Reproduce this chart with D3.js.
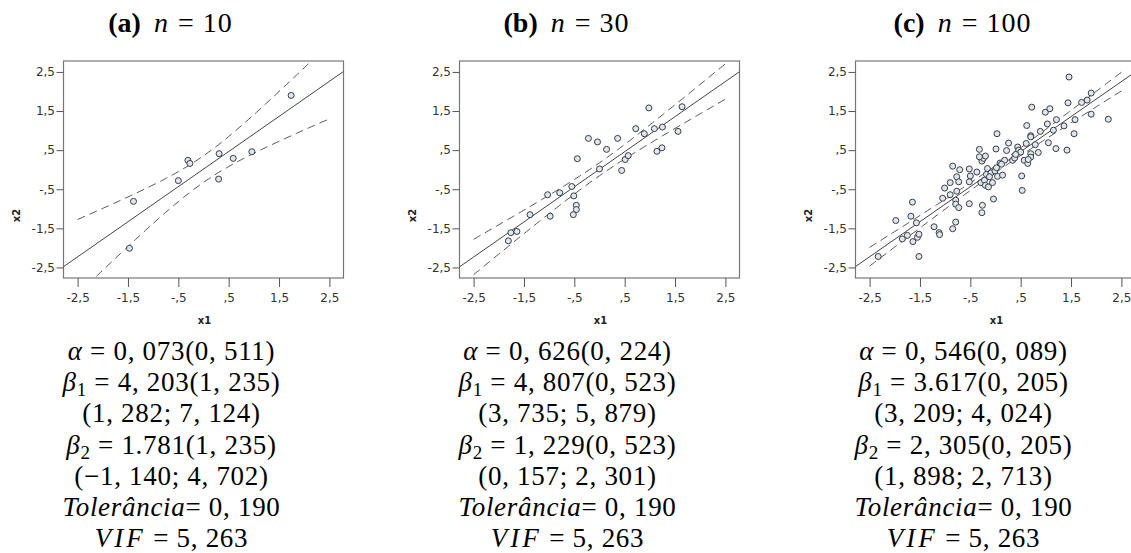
<!DOCTYPE html>
<html>
<head>
<meta charset="utf-8">
<script src="https://cdn.jsdelivr.net/npm/d3@7"></script>
<style>
  body { margin: 0; background: #fff; }
  svg { display: block; }
</style>
</head>
<body>
<svg id="chart"></svg>
<script>
// values
const tickValues = [-2.5, -1.5, -0.5, 0.5, 1.5, 2.5];
const panelLetters = ["a", "b", "c"];
const sampleSizes = [10, 30, 100];
const tCrit = [2.306, 2.048, 1.984]; // t(0.975, n-2)

const x1_a = [1.74, -1.39, -1.47, -0.50, -0.31, -0.27, 0.31, 0.30, 0.59, 0.96];
const x2_a = [1.90, -0.81, -2.01, -0.28, 0.24, 0.16, 0.41, -0.24, 0.29, 0.46];

const x1_b = [0.98, 1.64, 0.72, 0.89, 1.09, 1.25, 1.56, 1.14, 1.24, -0.22,
  -0.04, 0.36, 0.14, -0.44, 0.00, 0.51, 0.57, 0.44, -0.55, -0.51,
  -1.03, -0.79, -0.46, -0.46, -0.52, -1.38, -0.98, -1.76, -1.64, -1.81];
const x2_b = [1.58, 1.61, 1.05, 0.92, 1.05, 1.09, 0.98, 0.47, 0.56, 0.80,
  0.71, 0.80, 0.52, 0.28, 0.02, 0.26, 0.36, -0.02, -0.43, -0.67,
  -0.64, -0.59, -0.91, -1.02, -1.15, -1.15, -1.19, -1.61, -1.58, -1.82];

const x1_c = [-2.33, -1.98, -1.85, -1.75, -1.68, -1.65, -1.64, -1.57, -1.55, -1.52,
  -1.52, -1.22, -1.12, -1.11, -1.05, -1.01, -0.90, -0.90, -0.85, -0.85,
  -0.79, -0.79, -0.77, -0.77, -0.79, -0.73, -0.73, -0.71, -0.52, -0.50,
  -0.52, -0.52, -0.37, -0.32, -0.29, -0.27, -0.24, -0.26, -0.27, -0.22,
  -0.20, -0.20, -0.18, -0.16, -0.14, -0.09, -0.06, -0.04, -0.01, 0.02,
  0.01, 0.03, 0.04, 0.09, 0.14, 0.18, 0.22, 0.26, 0.34, 0.38,
  0.44, 0.46, 0.50, 0.52, 0.53, 0.57, 0.61, 0.62, 0.64, 0.70,
  0.70, 0.70, 0.70, 0.72, 0.79, 0.85, 0.89, 0.99, 1.08, 1.03,
  1.05, 1.15, 1.21, 1.20, 1.36, 1.42, 1.44, 1.46, 1.56, 1.58,
  1.71, 1.82, 1.90, 1.90, 2.24, -0.32, -0.12, 0.12, 0.40, 0.65];
const x2_c = [-2.22, -1.30, -1.77, -1.68, -1.19, -0.83, -1.84, -1.36, -1.73, -1.65,
  -2.22, -1.46, -1.61, -1.66, -0.73, -0.47, -0.33, -0.64, 0.09, -1.51,
  -1.34, -0.78, -0.18, -0.55, -0.88, -0.97, -0.31, 0.00, 0.02, -0.16,
  -0.31, -0.87, -0.06, 0.52, -0.33, 0.22, 0.29, -0.91, -1.10, -0.27,
  0.35, -0.40, -0.12, 0.03, -0.44, -0.08, -0.33, -0.75, -0.03, 0.05,
  0.53, 0.92, -0.17, 0.17, -0.14, 0.24, 0.49, 0.68, 0.24, 0.30,
  0.58, 0.50, 0.45, -0.16, -0.53, 0.24, 0.67, 1.13, 0.16, 0.87,
  0.84, 0.41, 0.32, 1.60, 0.64, 0.44, 0.98, 1.47, 1.56, 1.17,
  0.69, 1.01, 1.28, 0.54, 1.12, 0.50, 1.71, 2.37, 0.92, 1.28,
  1.72, 1.78, 1.96, 1.42, 1.29, 0.33, -0.18, 0.14, 0.39, 0.26];

// text under each panel: pieces with i = italic, sub = subscript
const stats_a = [
  [{t: "α", i: 1}, {t: " = 0, 073(0, 511)"}],
  [{t: "β", i: 1}, {t: "1", sub: 1}, {t: " = 4, 203(1, 235)"}],
  [{t: "(1, 282; 7, 124)"}],
  [{t: "β", i: 1}, {t: "2", sub: 1}, {t: " = 1.781(1, 235)"}],
  [{t: "(−1, 140; 4, 702)"}],
  [{t: "Tolerância", i: 1}, {t: "= 0, 190"}],
  [{t: "VIF", i: 1, sp: 1}, {t: " = 5, 263"}]
];
const stats_b = [
  [{t: "α", i: 1}, {t: " = 0, 626(0, 224)"}],
  [{t: "β", i: 1}, {t: "1", sub: 1}, {t: " = 4, 807(0, 523)"}],
  [{t: "(3, 735; 5, 879)"}],
  [{t: "β", i: 1}, {t: "2", sub: 1}, {t: " = 1, 229(0, 523)"}],
  [{t: "(0, 157; 2, 301)"}],
  [{t: "Tolerância", i: 1}, {t: "= 0, 190"}],
  [{t: "VIF", i: 1, sp: 1}, {t: " = 5, 263"}]
];
const stats_c = [
  [{t: "α", i: 1}, {t: " = 0, 546(0, 089)"}],
  [{t: "β", i: 1}, {t: "1", sub: 1}, {t: " = 3.617(0, 205)"}],
  [{t: "(3, 209; 4, 024)"}],
  [{t: "β", i: 1}, {t: "2", sub: 1}, {t: " = 2, 305(0, 205)"}],
  [{t: "(1, 898; 2, 713)"}],
  [{t: "Tolerância", i: 1}, {t: "= 0, 190"}],
  [{t: "VIF", i: 1, sp: 1}, {t: " = 5, 263"}]
];

const panelX1 = [x1_a, x1_b, x1_c];
const panelX2 = [x2_a, x2_b, x2_c];
const panelStats = [stats_a, stats_b, stats_c];

(() => {
  const width = 1131, height = 553;
  const svg = d3.select("#chart").attr("width", width).attr("height", height);

  const lefts = [63.5, 459.5, 855.5];
  const top = 61, W = 280, H = 217;
  const serif = "'Liberation Serif', 'Times New Roman', serif";
  const sans = "'DejaVu Sans', Verdana, sans-serif";

  const x = d3.scaleLinear().domain([-2.78, 2.78]).range([0, W]);
  const y = d3.scaleLinear().domain([-2.77, 2.78]).range([H, 0]);

  const fmt = d => d3.format(".1f")(d).replace(".", ",").replace("−", "-").replace(/^(-?)0,/, "$1,");

  // least squares fit, used for the solid line and the dashed 95% band
  function fit(xs, ys) {
    const n = xs.length;
    const mx = d3.mean(xs), my = d3.mean(ys);
    let sxx = 0, sxy = 0;
    xs.forEach((v, i) => { sxx += (v - mx) ** 2; sxy += (v - mx) * (ys[i] - my); });
    const b = sxy / sxx, a = my - b * mx;
    let sse = 0;
    xs.forEach((v, i) => { sse += (ys[i] - a - b * v) ** 2; });
    const s = Math.sqrt(sse / (n - 2));
    return {n, mx, sxx, a, b, s};
  }

  svg.append("defs").append("clipPath").attr("id", "plotclip")
    .append("rect").attr("width", W).attr("height", H);

  panelLetters.forEach((letter, p) => {
    const g = svg.append("g").attr("transform", `translate(${lefts[p]},${top})`);
    const xs = panelX1[p], ys = panelX2[p];
    const f = fit(xs, ys);
    const t = tCrit[p];

    // frame
    g.append("rect")
      .attr("width", W).attr("height", H)
      .attr("fill", "none").attr("stroke", "#777").attr("stroke-width", 1.2);

    // axes
    const xAxis = g.append("g").attr("transform", `translate(0,${H})`)
      .call(d3.axisBottom(x).tickValues(tickValues).tickFormat(fmt).tickSize(9).tickPadding(6));
    const yAxis = g.append("g")
      .call(d3.axisLeft(y).tickValues(tickValues).tickFormat(fmt).tickSize(7).tickPadding(1.5));
    [xAxis, yAxis].forEach(ax => {
      ax.select(".domain").remove();
      ax.selectAll("line").attr("stroke", "#555");
      ax.selectAll("text").attr("fill", "#333").style("font-family", sans).style("font-size", "12px");
    });

    // axis titles
    g.append("text")
      .attr("x", W / 2 + 1).attr("y", 263)
      .attr("text-anchor", "middle")
      .style("font-family", sans).style("font-size", "10px").style("font-weight", "bold")
      .attr("fill", "#222").text("x1");
    g.append("text")
      .attr("transform", `translate(-44,${H / 2 + 46}) rotate(-90)`)
      .attr("text-anchor", "middle")
      .style("font-family", sans).style("font-size", "10px").style("font-weight", "bold")
      .attr("fill", "#222").text("x2");

    const plot = g.append("g").attr("clip-path", "url(#plotclip)");

    const fitLine = d3.line().x(d => x(d)).y(d => y(f.a + f.b * d));
    plot.append("path")
      .attr("d", fitLine(x.domain()))
      .attr("fill", "none").attr("stroke", "#444").attr("stroke-width", 1);

    const grid = d3.range(-2.5, 2.5001, 0.05);
    const half = v => t * f.s * Math.sqrt(1 / f.n + (v - f.mx) ** 2 / f.sxx);
    [1, -1].forEach(sign => {
      plot.append("path")
        .attr("d", d3.line().x(d => x(d)).y(d => y(f.a + f.b * d + sign * half(d)))(grid))
        .attr("fill", "none").attr("stroke", "#555").attr("stroke-width", 1)
        .attr("stroke-dasharray", "8,5");
    });

    // points
    plot.selectAll("circle")
      .data(xs.map((v, i) => [v, ys[i]]))
      .enter()
      .append("circle")
      .attr("cx", d => x(d[0]))
      .attr("cy", d => y(d[1]))
      .attr("r", 3)
      .attr("fill", "#dce7f5")
      .attr("stroke", "#3c3c3c")
      .attr("stroke-width", 1);

    // title
    const cx = lefts[p] + 107;
    const title = svg.append("text")
      .attr("x", cx).attr("y", 32)
      .attr("text-anchor", "middle")
      .style("font-family", serif).style("font-size", "28px").attr("fill", "#000");
    title.append("tspan").style("font-weight", "bold").text(`(${letter})`);
    title.append("tspan").attr("dx", 13).style("font-style", "italic").text("n");
    title.append("tspan").attr("dx", 10).text("=");
    title.append("tspan").attr("dx", 9).style("letter-spacing", "1px").text(sampleSizes[p]);

    // statistics block
    panelStats[p].forEach((line, k) => {
      const txt = svg.append("text")
        .attr("x", cx + 1).attr("y", 360 + k * 31.2)
        .attr("text-anchor", "middle")
        .style("font-family", serif).style("font-size", "27px")
        .style("letter-spacing", "0.7px").attr("fill", "#000");
      let shifted = false;
      line.forEach(piece => {
        const ts = txt.append("tspan").text(piece.t);
        if (piece.i) ts.style("font-style", "italic");
        if (piece.sp) ts.style("letter-spacing", "3px");
        if (piece.sub) {
          ts.attr("dy", 5).style("font-size", "19px");
          shifted = true;
        } else if (shifted) {
          ts.attr("dy", -5);
          shifted = false;
        }
      });
    });
  });
})();
</script>
</body>
</html>
